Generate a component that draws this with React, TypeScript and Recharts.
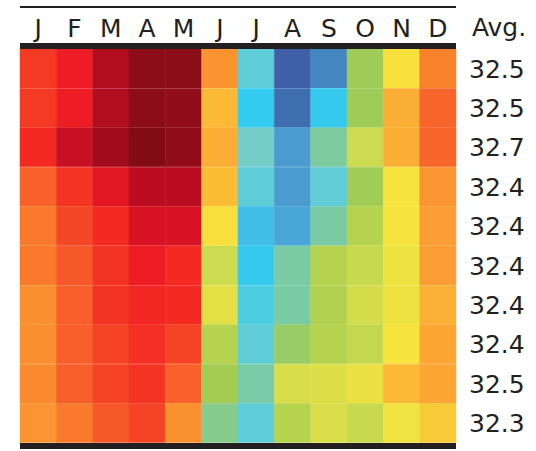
import { BarChart, Bar, XAxis, YAxis, Cell } from 'recharts';

const months = ['J', 'F', 'M', 'A', 'M', 'J', 'J', 'A', 'S', 'O', 'N', 'D'];
const avgLabels = ['32.5', '32.5', '32.7', '32.4', '32.4', '32.4', '32.4', '32.4', '32.5', '32.3'];

// one row per line of the heatmap, one value per month
const row01 = [37.4, 39.0, 41.3, 43.0, 43.0, 34.7, 24.0, 17.0, 19.0, 27.7, 32.1, 35.3];
const row02 = [37.4, 39.0, 41.3, 43.0, 42.8, 33.0, 23.0, 18.0, 22.8, 27.7, 33.4, 36.0];
const row03 = [38.0, 40.6, 42.0, 44.0, 42.8, 33.4, 25.0, 20.0, 26.1, 30.0, 33.4, 36.0];
const row04 = [36.1, 37.6, 39.6, 41.0, 41.0, 32.9, 24.0, 20.0, 24.1, 27.8, 32.0, 34.6];
const row05 = [35.5, 36.9, 38.0, 40.0, 40.0, 32.1, 22.0, 21.0, 26.0, 29.0, 32.0, 34.0];
const row06 = [35.5, 36.4, 37.6, 39.0, 38.0, 30.0, 22.8, 26.0, 29.0, 29.8, 31.6, 34.0];
const row07 = [35.0, 36.2, 37.6, 38.3, 38.0, 31.0, 23.6, 26.0, 28.8, 30.3, 31.6, 33.3];
const row08 = [35.0, 36.2, 37.0, 37.8, 37.0, 29.0, 24.0, 27.0, 29.0, 29.6, 32.0, 33.7];
const row09 = [35.1, 36.2, 37.0, 37.6, 36.1, 28.0, 25.9, 30.5, 30.8, 31.4, 33.0, 33.7];
const row10 = [34.6, 35.5, 36.4, 37.0, 34.8, 26.4, 24.0, 29.0, 30.6, 29.8, 31.7, 32.6];
const rows = [row01, row02, row03, row04, row05, row06, row07, row08, row09, row10];

// colour scale, low (blue) to high (dark red), one stop per unit from scaleMin
const scaleMin = 17;
const palette = [
  '#3F5FA8', '#3F6EB0', '#4486C0', '#4A9BCF', '#4AA6D8', '#40BEE8', '#33CCF0',
  '#5ECDD8', '#77CDC7', '#7ACBA4', '#97CC66', '#A3CC52', '#B5D34F', '#CCDB4F',
  '#E3E046', '#F6E33D', '#FBB935', '#FC9E35', '#F98F2E', '#F8652B', '#F44425',
  '#F42A22', '#EE1C24', '#D81424', '#BB0D22', '#A00C1C', '#8C0D18', '#800C14',
];

function hexToRgb(h: string) {
  return [1, 3, 5].map(i => parseInt(h.slice(i, i + 2), 16));
}

function colorFor(v: number): string {
  const t = Math.max(0, Math.min(palette.length - 1, v - scaleMin));
  const lo = Math.floor(t);
  const hi = Math.min(palette.length - 1, lo + 1);
  const f = t - lo;
  const a = hexToRgb(palette[lo]);
  const b = hexToRgb(palette[hi]);
  const c = a.map((x, i) => Math.round(x + (b[i] - x) * f));
  return `rgb(${c[0]},${c[1]},${c[2]})`;
}

// every month gets an equal slot in the stacked row
const chartData = rows.map((_, i) => {
  const d: Record<string, string | number> = { row: `r${i}` };
  months.forEach((__, m) => {
    d[`m${m}`] = 1;
  });
  return d;
});

const monthTicks = months.map((_, i) => i + 0.5);
const ink = '#231F20';

export default function App() {
  return (
    <div style={{ position: 'absolute', left: 0, top: 0, fontFamily: 'DejaVu Sans' }}>
      <BarChart
        width={536}
        height={451}
        data={chartData}
        layout="vertical"
        margin={{ top: 0, right: 0, bottom: 0, left: 20 }}
        barCategoryGap={0}
        barGap={0}
      >
        <XAxis
          xAxisId="m"
          type="number"
          domain={[0, 12]}
          orientation="top"
          height={39}
          ticks={monthTicks}
          interval={0}
          tickFormatter={(v: number) => months[Math.floor(v)]}
          tickLine={false}
          tickMargin={3}
          axisLine={{ stroke: ink, strokeWidth: 6 }}
          tick={{ fill: ink, fontSize: 25 }}
        />
        <XAxis
          xAxisId="t"
          type="number"
          domain={[0, 12]}
          orientation="top"
          height={7}
          tick={false}
          tickLine={false}
          axisLine={{ stroke: ink, strokeWidth: 2 }}
        />
        <XAxis
          xAxisId="b"
          type="number"
          domain={[0, 12]}
          orientation="bottom"
          height={5}
          tick={false}
          tickLine={false}
          axisLine={{ stroke: ink, strokeWidth: 6 }}
        />
        <YAxis
          type="category"
          dataKey="row"
          orientation="right"
          width={80}
          padding={{ top: 3, bottom: 3 }}
          tickLine={false}
          axisLine={false}
          tickMargin={7}
          tickFormatter={(_v: string, i: number) => avgLabels[i]}
          tick={{ fill: ink, fontSize: 25 }}
          label={{ value: 'Avg.', position: 'top', offset: 10, fill: ink, fontSize: 25, dx: 3 }}
        />
        {months.map((_, m) => (
          <Bar key={m} dataKey={`m${m}`} stackId="a" xAxisId="m" isAnimationActive={false}>
            {rows.map((r, i) => (
              <Cell key={i} fill={colorFor(r[m])} stroke={colorFor(r[m])} strokeWidth={0.5} />
            ))}
          </Bar>
        ))}
      </BarChart>
    </div>
  );
}
